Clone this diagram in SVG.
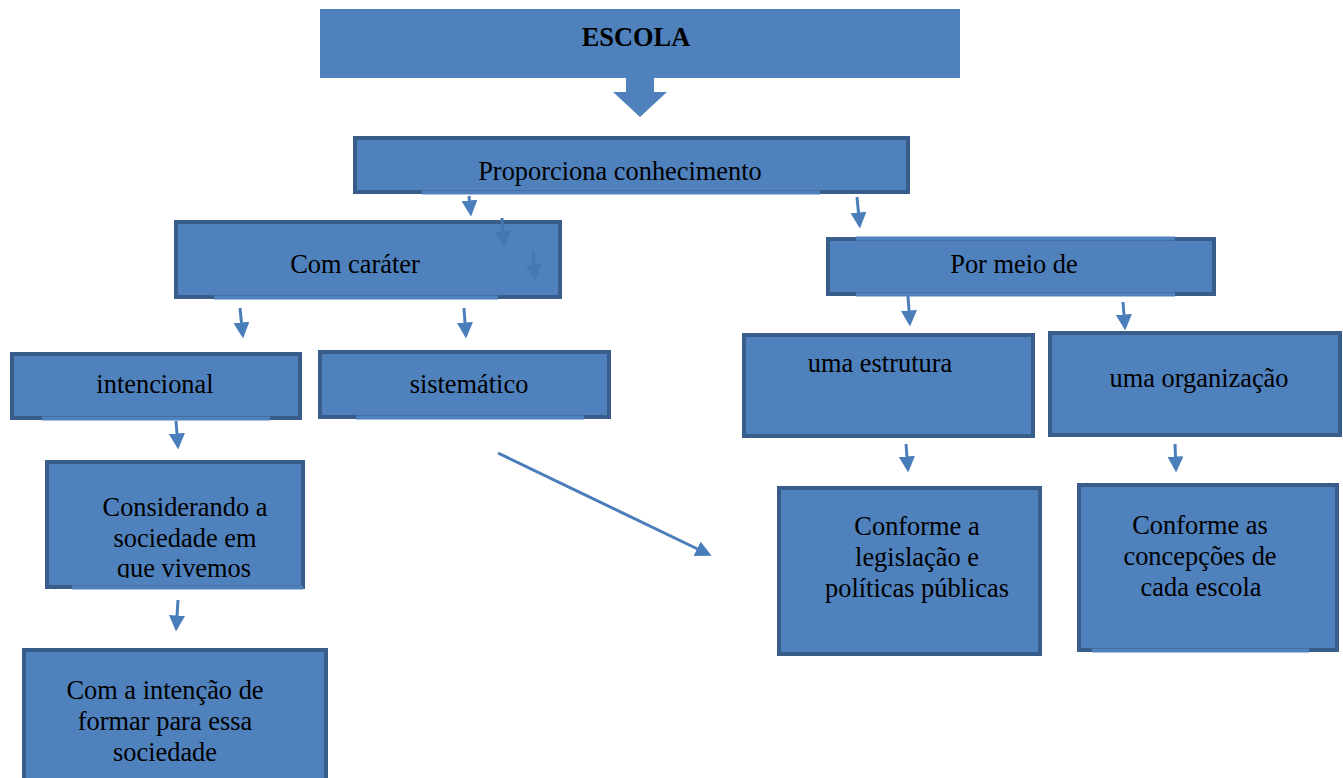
<svg xmlns="http://www.w3.org/2000/svg" width="1343" height="778" viewBox="0 0 1343 778">
  <defs>
    <style>
      .box { fill: #4F81BD; stroke: #385D8A; stroke-width: 4; }
      .gap { stroke: #4F81BD; stroke-width: 4; }
      .lbl { font-family: "Liberation Serif", "Times New Roman", serif; font-size: 26.4px; fill: #000; text-anchor: middle; }
      .bold { font-weight: bold; }
      .conn { stroke: #4A7EBB; stroke-width: 3; fill: none; marker-end: url(#head); }
      .ghost { stroke: #4677B5; stroke-width: 3; fill: none; marker-end: url(#ghostHead); }
    </style>
    <marker id="head" markerUnits="userSpaceOnUse" markerWidth="16" markerHeight="16" viewBox="0 0 16 16" refX="0.5" refY="8" orient="auto">
      <path d="M0,0 L16,8 L0,16 Z" fill="#4A7EBB"/>
    </marker>
    <marker id="ghostHead" markerUnits="userSpaceOnUse" markerWidth="16" markerHeight="16" viewBox="0 0 16 16" refX="0.5" refY="8" orient="auto">
      <path d="M0,0 L16,8 L0,16 Z" fill="#4677B5"/>
    </marker>
    <clipPath id="consClip">
      <rect x="47" y="462" width="256" height="116"/>
    </clipPath>
  </defs>

  <rect width="1343" height="778" fill="#FFFFFF"/>

  <!-- Top title block with its block arrow -->
  <g id="escola">
    <rect x="320" y="9" width="640" height="69" fill="#4F81BD"/>
    <polygon points="626,78 654,78 654,92 667,92 640,117 613,92 626,92" fill="#4F81BD"/>
    <text class="lbl bold" x="636" y="46">ESCOLA</text>
  </g>

  <g id="proporciona">
    <rect class="box" x="355" y="138" width="553" height="54"/>
    <line class="gap" x1="422" y1="192.5" x2="820" y2="192.5"/>
    <text class="lbl" x="620" y="180">Proporciona conhecimento</text>
  </g>

  <g id="com-carater">
    <rect class="box" x="176" y="222" width="384" height="75"/>
    <line class="gap" x1="214" y1="297.5" x2="498" y2="297.5"/>
    <text class="lbl" x="355" y="273">Com caráter</text>
  </g>

  <g id="intencional">
    <rect class="box" x="12" y="354" width="288" height="64"/>
    <line class="gap" x1="42" y1="418.5" x2="270" y2="418.5"/>
    <text class="lbl" x="155" y="393">intencional</text>
  </g>

  <g id="sistematico">
    <rect class="box" x="320" y="352" width="289" height="65"/>
    <line class="gap" x1="356" y1="417.5" x2="584" y2="417.5"/>
    <text class="lbl" x="469" y="393">sistemático</text>
  </g>

  <g id="por-meio-de">
    <rect class="box" x="828" y="239" width="386" height="55"/>
    <line class="gap" x1="856" y1="238.5" x2="1175" y2="238.5"/>
    <line class="gap" x1="856" y1="294.5" x2="1175" y2="294.5"/>
    <text class="lbl" x="1014" y="273">Por meio de</text>
  </g>

  <g id="estrutura">
    <rect class="box" x="744" y="335" width="289" height="101"/>
    <text class="lbl" x="880" y="372">uma estrutura</text>
  </g>

  <g id="organizacao">
    <rect class="box" x="1050" y="333" width="290" height="102"/>
    <text class="lbl" x="1199" y="387">uma organização</text>
  </g>

  <g id="considerando">
    <rect class="box" x="47" y="462" width="256" height="125"/>
    <line class="gap" x1="72" y1="587.5" x2="303" y2="587.5"/>
    <g clip-path="url(#consClip)">
      <text class="lbl" x="185" y="516">Considerando a</text>
      <text class="lbl" x="185" y="547">sociedade em</text>
      <text class="lbl" x="184" y="577">que vivemos</text>
    </g>
  </g>

  <g id="intencao">
    <rect class="box" x="24" y="650" width="302" height="150"/>
    <text class="lbl" x="165" y="699">Com a intenção de</text>
    <text class="lbl" x="165" y="730">formar para essa</text>
    <text class="lbl" x="165" y="761">sociedade</text>
  </g>

  <g id="conforme-a">
    <rect class="box" x="779" y="488" width="261" height="166"/>
    <text class="lbl" x="917" y="535">Conforme a</text>
    <text class="lbl" x="917" y="566">legislação e</text>
    <text class="lbl" x="917" y="597">políticas públicas</text>
  </g>

  <g id="conforme-as">
    <rect class="box" x="1079" y="485" width="258" height="165"/>
    <line class="gap" x1="1092" y1="650.5" x2="1309" y2="650.5"/>
    <text class="lbl" x="1200" y="534">Conforme as</text>
    <text class="lbl" x="1200" y="565">concepções de</text>
    <text class="lbl" x="1201" y="596">cada escola</text>
  </g>

  <!-- Connectors -->
  <g id="connectors">
    <line class="conn" x1="469" y1="196" x2="469.5" y2="201"/>
    <line class="conn" x1="857" y1="197" x2="858.5" y2="213"/>
    <line class="ghost" x1="502" y1="218" x2="503" y2="232"/>
    <line class="ghost" x1="533" y1="251" x2="534" y2="265"/>
    <line class="conn" x1="240" y1="308" x2="241.5" y2="323"/>
    <line class="conn" x1="464" y1="308" x2="465" y2="323"/>
    <line class="conn" x1="908" y1="296" x2="909" y2="311"/>
    <line class="conn" x1="1123" y1="302" x2="1124" y2="315"/>
    <line class="conn" x1="176" y1="421" x2="177" y2="434"/>
    <line class="conn" x1="906" y1="444" x2="907" y2="457"/>
    <line class="conn" x1="1175" y1="444" x2="1175.5" y2="457"/>
    <line class="conn" x1="178" y1="600" x2="177" y2="616"/>
    <line class="conn" x1="498" y1="453" x2="697.6" y2="549"/>
  </g>
</svg>
